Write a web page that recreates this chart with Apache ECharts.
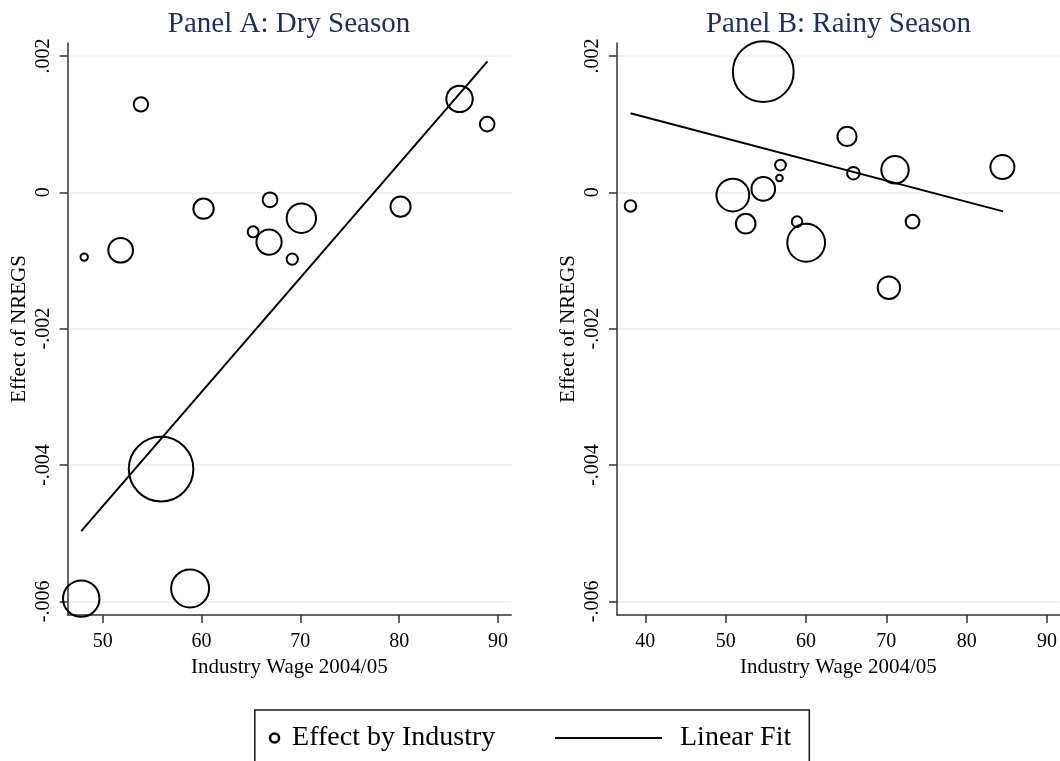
<!DOCTYPE html>
<html>
<head>
<meta charset="utf-8">
<title>Effect of NREGS by Industry Wage</title>
<script src="https://cdn.jsdelivr.net/npm/echarts@6/dist/echarts.min.js"></script>
<style>
  html, body { margin: 0; padding: 0; background: #fff; }
  #chart { width: 1060px; height: 761px; }
</style>
</head>
<body>
<div id="chart"></div>
<script>
// ---- Panel A: dry season ----
const dryWage   = [53.86, 48.12, 51.81, 60.20, 66.93, 65.22, 66.83, 70.10, 69.18, 80.14, 86.11, 88.91, 55.90, 47.82, 58.84];
const dryEffect = [0.00129, -0.00095, -0.00085, -0.00024, -0.00011, -0.00058, -0.00073, -0.00038, -0.00098, -0.00021, 0.00137, 0.00100, -0.00406, -0.00596, -0.00581];
const dryWeight = [0.67, 0.22, 1.77, 1.25, 0.71, 0.42, 1.85, 2.46, 0.44, 1.23, 2.02, 0.69, 11.09, 3.69, 4.00];
const dryFitWage   = [47.82, 88.94];
const dryFitEffect = [-0.00497, 0.00192];

// ---- Panel B: rainy season ----
const rainyWage   = [54.68, 65.11, 56.82, 56.69, 65.90, 71.08, 84.45, 38.15, 50.89, 54.68, 52.49, 58.88, 60.02, 73.26, 70.32];
const rainyEffect = [0.00177, 0.00082, 0.00040, 0.00021, 0.00028, 0.00033, 0.00037, -0.00020, -0.00004, 0.00005, -0.00046, -0.00043, -0.00074, -0.00043, -0.00140];
const rainyWeight = [9.86, 1.12, 0.41, 0.19, 0.53, 2.16, 1.69, 0.46, 3.03, 1.64, 1.17, 0.40, 3.96, 0.62, 1.49];
const rainyFitWage   = [38.15, 84.53];
const rainyFitEffect = [0.00116, -0.00028];

// ---- axis ticks ----
const yTicks      = [-0.006, -0.004, -0.002, 0, 0.002];
const yTickLabels = ['-.006', '-.004', '-.002', '0', '.002'];
const xTicksDry   = [50, 60, 70, 80, 90];
const xTicksRainy = [40, 50, 60, 70, 80, 90];

const SERIF = "'Liberation Serif', 'Times New Roman', serif";
const TITLE_COLOR = '#1d2f5e';
const AXIS_COLOR = '#333';
const GRID_COLOR = '#e9f0f3';

function pairs(xs, ys, extra) {
  return xs.map((x, i) => extra ? [x, ys[i], extra[i]] : [x, ys[i]]);
}

function yLabel(v) {
  for (let i = 0; i < yTicks.length; i++) {
    if (Math.abs(v - yTicks[i]) < 1e-9) return yTickLabels[i];
  }
  return '';
}

function xAxisFor(gridIndex, min, max, ticks) {
  return {
    type: 'value', gridIndex, min, max,
    name: 'Industry Wage 2004/05',
    nameLocation: 'middle', nameGap: 42,
    nameTextStyle: { fontFamily: SERIF, fontSize: 21, color: '#000' },
    axisLine: { show: true, onZero: false, lineStyle: { color: AXIS_COLOR, width: 1.5 } },
    axisTick: { show: true, length: 8, customValues: ticks, lineStyle: { color: AXIS_COLOR, width: 1.5 } },
    axisLabel: { customValues: ticks, margin: 17, fontFamily: SERIF, fontSize: 20, color: '#000' },
    splitLine: { show: false }
  };
}

function yAxisFor(gridIndex) {
  return {
    type: 'value', gridIndex, min: -0.00620, max: 0.00219,
    name: 'Effect of NREGS',
    nameLocation: 'middle', nameRotate: 90, nameGap: 38,
    nameTextStyle: { fontFamily: SERIF, fontSize: 21, color: '#000' },
    axisLine: { show: true, onZero: false, lineStyle: { color: AXIS_COLOR, width: 1.5 } },
    axisTick: { show: true, length: 8, customValues: yTicks, lineStyle: { color: AXIS_COLOR, width: 1.5 } },
    axisLabel: { customValues: yTicks, rotate: 90, margin: 14, fontFamily: SERIF, fontSize: 20, color: '#000', formatter: yLabel },
    splitLine: { show: true, lineStyle: { color: GRID_COLOR, width: 1.5 } }
  };
}

function bubbleSeries(name, axisIndex, data) {
  return {
    name, type: 'scatter', xAxisIndex: axisIndex, yAxisIndex: axisIndex,
    data,
    symbol: 'circle',
    // marker area proportional to the industry weight
    symbolSize: d => 20 * Math.sqrt(d[2]) - 2,
    itemStyle: { color: 'rgba(0,0,0,0)', borderColor: '#000', borderWidth: 2, opacity: 1 },
    emphasis: { disabled: true },
    silent: true
  };
}

function fitSeries(name, axisIndex, data) {
  return {
    name, type: 'line', xAxisIndex: axisIndex, yAxisIndex: axisIndex,
    data, showSymbol: false, symbol: 'none',
    lineStyle: { color: '#000', width: 2 },
    itemStyle: { color: '#000' },
    emphasis: { disabled: true },
    silent: true, z: 3
  };
}

const chart = echarts.init(document.getElementById('chart'), null, { renderer: 'canvas' });

chart.setOption({
  animation: false,
  backgroundColor: '#fff',
  title: [
    { text: 'Panel A: Dry Season', left: 289, top: 10, textAlign: 'center', padding: 0,
      textStyle: { fontFamily: SERIF, fontSize: 29, fontWeight: 'normal', color: TITLE_COLOR } },
    { text: 'Panel B: Rainy Season', left: 838.5, top: 10, textAlign: 'center', padding: 0,
      textStyle: { fontFamily: SERIF, fontSize: 29, fontWeight: 'normal', color: TITLE_COLOR } }
  ],
  grid: [
    { left: 67.6, right: 548.8, top: 43, bottom: 146, containLabel: false },
    { left: 617, right: 0, top: 43, bottom: 146, containLabel: false }
  ],
  xAxis: [
    xAxisFor(0, 46.44, 91.34, xTicksDry),
    xAxisFor(1, 36.47, 91.6, xTicksRainy)
  ],
  yAxis: [yAxisFor(0), yAxisFor(1)],
  legend: [
    { data: [{ name: 'Effect by Industry', icon: 'circle' }],
      left: 268.8, top: 724, padding: 0, itemWidth: 9, itemHeight: 9, selectedMode: false,
      itemStyle: { color: 'rgba(0,0,0,0)', borderColor: '#000', borderWidth: 2.5 },
      textStyle: { fontFamily: SERIF, fontSize: 28, color: '#000', padding: [0, 0, 0, 8] } },
    { data: [{ name: 'Linear Fit', icon: 'rect' }],
      left: 555, top: 724, padding: 0, itemWidth: 107, itemHeight: 2, selectedMode: false,
      itemStyle: { color: '#000' },
      textStyle: { fontFamily: SERIF, fontSize: 28, color: '#000', padding: [0, 0, 0, 13] } }
  ],
  graphic: [
    { type: 'rect', silent: true, z: 100,
      shape: { x: 254.8, y: 710, width: 554.5, height: 80 },
      style: { fill: 'none', stroke: '#1a1a1a', lineWidth: 1.5 } }
  ],
  series: [
    bubbleSeries('Effect by Industry', 0, pairs(dryWage, dryEffect, dryWeight)),
    fitSeries('Linear Fit', 0, pairs(dryFitWage, dryFitEffect)),
    bubbleSeries('Effect by Industry', 1, pairs(rainyWage, rainyEffect, rainyWeight)),
    fitSeries('Linear Fit', 1, pairs(rainyFitWage, rainyFitEffect))
  ]
});
</script>
</body>
</html>
